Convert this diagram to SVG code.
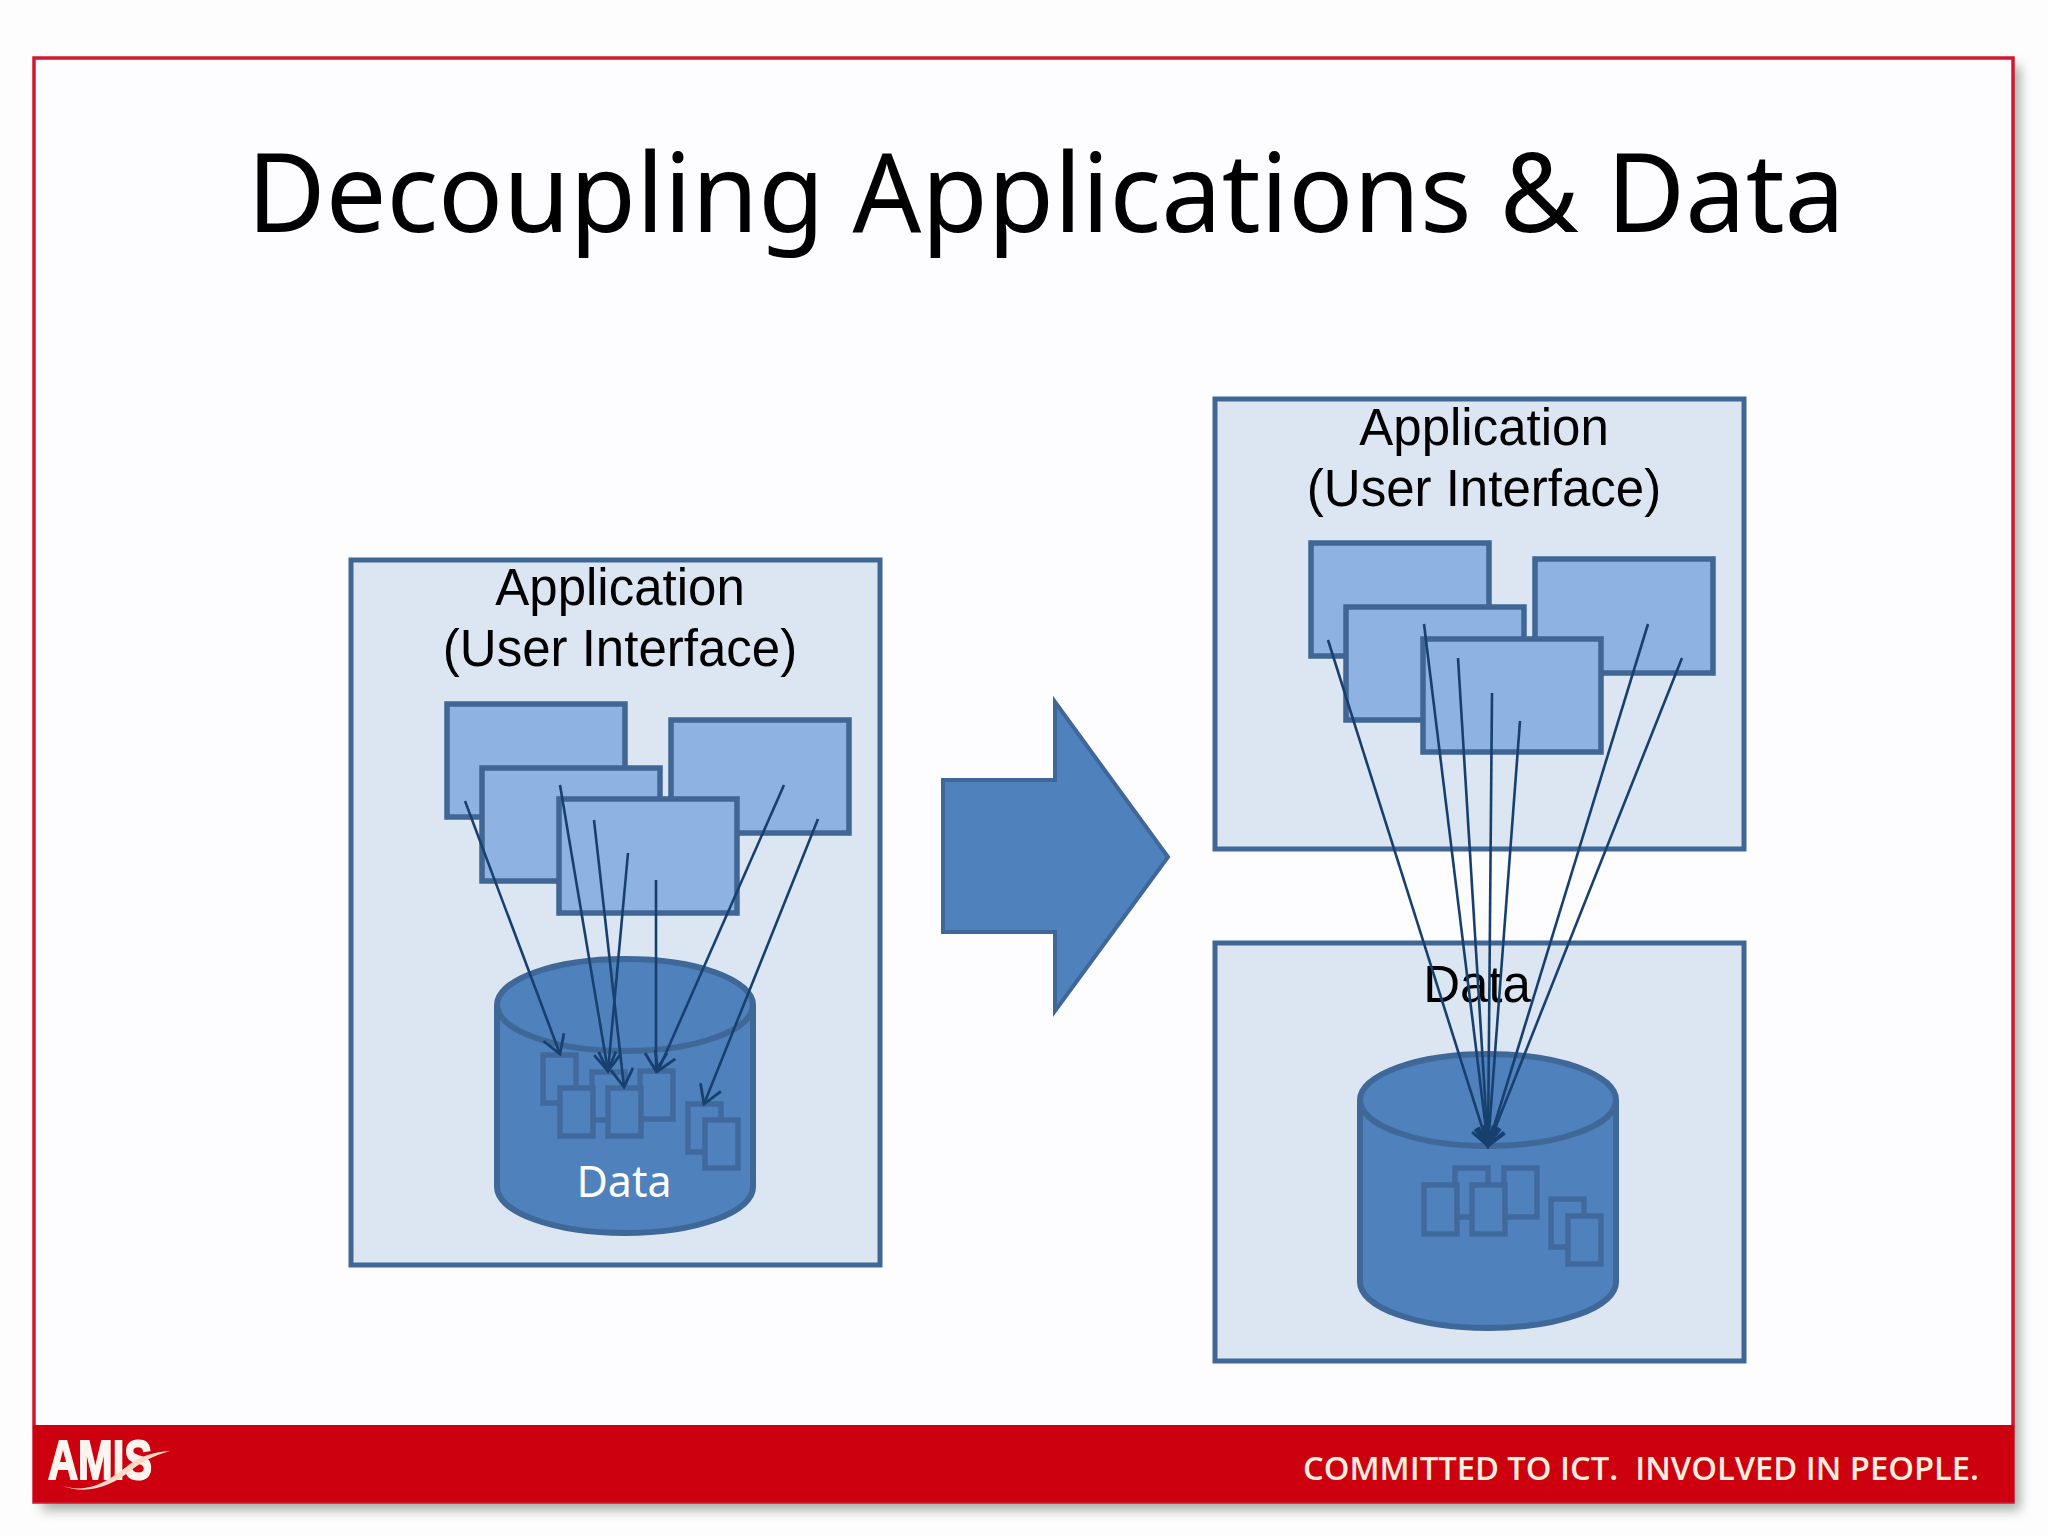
<svg xmlns="http://www.w3.org/2000/svg" width="2048" height="1536" viewBox="0 0 2048 1536">
<style>
.box{fill:#dce6f2;stroke:#3f6695;stroke-width:5}
.win{fill:#8eb2e1;stroke:#3f6695;stroke-width:5.5}
.cyl{fill:#4f81bd;stroke:#3f6899;stroke-width:6}
.doc{fill:#4f81bd;stroke:#406a9c;stroke-width:5.5}
.lbl{font-family:"Liberation Sans",Arial,sans-serif;font-size:51px;fill:#000;text-anchor:middle}
.con{fill:none;stroke:#17406f;stroke-width:2.6;marker-end:url(#open)}
</style>
<defs>
<marker id="open" markerUnits="userSpaceOnUse" markerWidth="30" markerHeight="32" refX="21" refY="14" orient="auto"><path d="M3 3 L21 14 L3 25" fill="none" stroke="#17406f" stroke-width="2.8"/></marker>
<filter id="sh" x="-3%" y="-3%" width="106%" height="106%"><feGaussianBlur stdDeviation="6"/></filter>
<g id="cylshape"><path class="cyl" d="M-128 0 V182 A128 46 0 0 0 128 182 V0 A128 46 0 0 0 -128 0 Z"/><path d="M-128 0 A128 46 0 0 0 128 0" fill="none" stroke="#3f6899" stroke-width="6"/></g>
</defs>
<rect width="2048" height="1536" fill="#fdfdfd"/>
<g id="slide">
<rect x="42" y="66" width="1978" height="1444" fill="#8a9088" opacity="0.75" filter="url(#sh)"/>
<rect x="34" y="58" width="1979" height="1444" fill="#fdfcff" stroke="#d2182c" stroke-width="3.5"/>
<rect x="33" y="1425" width="1981" height="77" fill="#cc000f"/>
<text x="247" y="232" font-family="'Noto Sans','Open Sans',sans-serif" font-size="110" textLength="1598" lengthAdjust="spacingAndGlyphs" fill="#000">Decoupling Applications &amp; Data</text>
<text x="1303" y="1480" font-family="'Open Sans','Liberation Sans',sans-serif" font-size="32" font-weight="600" textLength="676" lengthAdjust="spacingAndGlyphs" fill="#ffeede" style="white-space:pre">COMMITTED TO ICT.  INVOLVED IN PEOPLE.</text>
<g id="logo">
<text x="48" y="1479" font-family="'Liberation Sans',sans-serif" font-size="56" font-weight="700" textLength="104" lengthAdjust="spacingAndGlyphs" fill="#fff4ee" stroke="#fff4ee" stroke-width="2">AMIS</text>
<path d="M60 1485 C90 1496 112 1478 130 1464 C140 1456 154 1452 170 1451 C152 1456 142 1462 130 1471 C112 1486 86 1496 60 1485 Z" fill="#ffd9c8"/>
</g>
</g>
<g id="left-application">
<rect class="box" x="351" y="560" width="529" height="705"/>
<text class="lbl" x="620" y="605">Application</text>
<text class="lbl" x="620" y="666">(User Interface)</text>
<rect class="win" x="447" y="704" width="178" height="113"/>
<rect class="win" x="671" y="720" width="178" height="113"/>
<rect class="win" x="482" y="768" width="178" height="113"/>
<rect class="win" x="559" y="799" width="178" height="114"/>
</g>
<g id="left-data">
<use href="#cylshape" x="625" y="1005"/>
<rect class="doc" x="543" y="1055" width="33" height="48"/>
<rect class="doc" x="592" y="1072" width="33" height="48"/>
<rect class="doc" x="560" y="1088" width="33" height="48"/>
<rect class="doc" x="640" y="1071" width="33" height="48"/>
<rect class="doc" x="608" y="1088" width="33" height="48"/>
<rect class="doc" x="688" y="1104" width="33" height="48"/>
<rect class="doc" x="705" y="1120" width="33" height="48"/>
<text x="624" y="1197" font-family="'Noto Sans','Open Sans',sans-serif" font-size="43" text-anchor="middle" fill="#fff">Data</text>
</g>
<g id="transition-arrow">
<polygon points="943,780 1055,780 1055,702 1168,857 1055,1011 1055,932 943,932" fill="#4f81bd" stroke="#3f6899" stroke-width="4"/>
</g>
<g id="right-application">
<rect class="box" x="1215" y="399" width="529" height="450"/>
<text class="lbl" x="1484" y="445">Application</text>
<text class="lbl" x="1484" y="506">(User Interface)</text>
<rect class="win" x="1311" y="543" width="178" height="113"/>
<rect class="win" x="1535" y="559" width="178" height="114"/>
<rect class="win" x="1346" y="607" width="178" height="113"/>
<rect class="win" x="1423" y="639" width="178" height="113"/>
</g>
<g id="right-data">
<rect class="box" x="1215" y="943" width="529" height="418"/>
<text class="lbl" x="1477" y="1002">Data</text>
<use href="#cylshape" x="1488" y="1100"/>
<rect class="doc" x="1455" y="1168" width="33" height="49"/>
<rect class="doc" x="1424" y="1185" width="33" height="49"/>
<rect class="doc" x="1504" y="1168" width="33" height="49"/>
<rect class="doc" x="1472" y="1185" width="33" height="49"/>
<rect class="doc" x="1551" y="1199" width="33" height="48"/>
<rect class="doc" x="1568" y="1216" width="33" height="48"/>
</g>
<g id="connectors">
<line class="con" x1="465" y1="801" x2="560" y2="1054"/>
<line class="con" x1="560" y1="785" x2="608" y2="1071"/>
<line class="con" x1="594" y1="820" x2="624" y2="1087"/>
<line class="con" x1="628" y1="853" x2="608" y2="1071"/>
<line class="con" x1="656" y1="880" x2="656" y2="1071"/>
<line class="con" x1="784" y1="785" x2="658" y2="1071"/>
<line class="con" x1="818" y1="819" x2="704" y2="1104"/>
<line class="con" x1="1328" y1="640" x2="1488" y2="1146"/>
<line class="con" x1="1424" y1="624" x2="1488" y2="1146"/>
<line class="con" x1="1458" y1="658" x2="1488" y2="1146"/>
<line class="con" x1="1492" y1="693" x2="1488" y2="1146"/>
<line class="con" x1="1520" y1="721" x2="1488" y2="1146"/>
<line class="con" x1="1648" y1="624" x2="1488" y2="1146"/>
<line class="con" x1="1682" y1="658" x2="1488" y2="1146"/>
</g>
</svg>
